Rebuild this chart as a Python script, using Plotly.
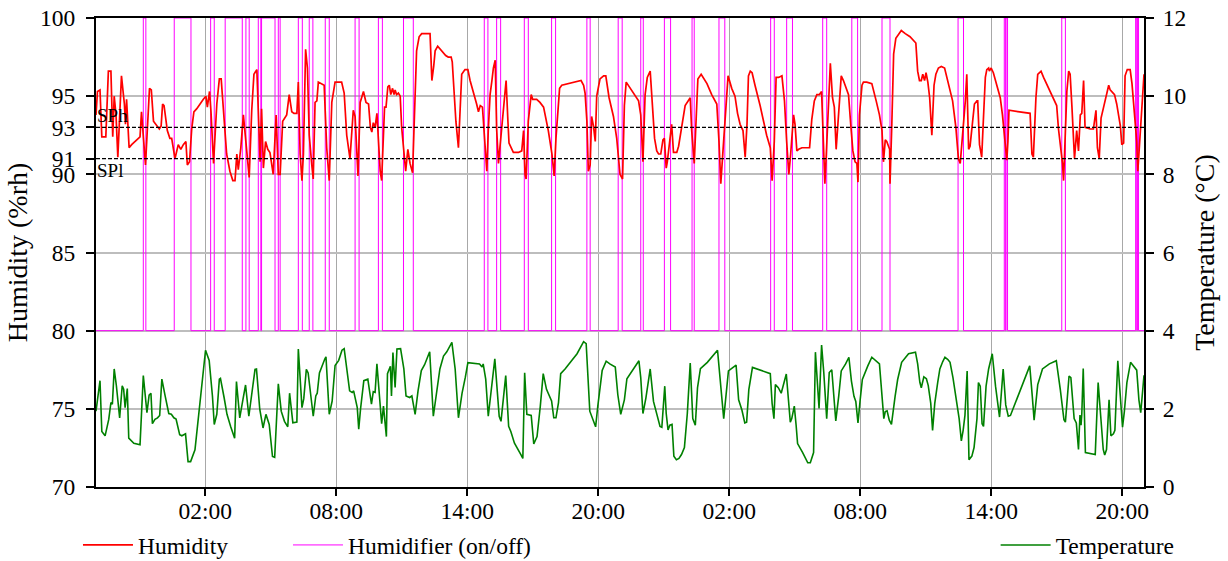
import pandas as pd
import plotly.graph_objects as go

START = pd.Timestamp("2024-01-01 21:00")
SPAN_MIN = 2880

# Humidity (%rh): minutes since start, value
hum_min = [0, 4, 11, 16, 27, 34, 41, 46, 50, 55, 60, 70, 78, 81, 84, 91, 98, 112, 121, 125, 136, 147, 152, 158, 167, 174, 179, 183, 187, 196, 203, 208, 217, 226, 233, 240, 247, 251, 257, 263, 269, 277, 295, 302, 306, 312, 316, 323, 332, 339, 344, 350, 359, 368, 376, 382, 387, 391, 398, 405, 410, 421, 428, 434, 442, 447, 451, 455, 460, 466, 472, 478, 487, 495, 501, 506, 513, 524, 531, 538, 544, 552, 556, 561, 566, 570, 576, 581, 586, 593, 597, 602, 607, 611, 620, 627, 634, 641, 648, 657, 669, 675, 682, 689, 698, 703, 707, 712, 720, 726, 735, 742, 749, 754, 758, 762, 767, 772, 774, 781, 785, 790, 793, 797, 802, 806, 810, 815, 819, 822, 826, 831, 836, 840, 848, 851, 857, 863, 870, 877, 881, 888, 895, 918, 923, 928, 932, 939, 946, 952, 961, 968, 976, 979, 984, 989, 996, 1001, 1005, 1014, 1022, 1028, 1040, 1046, 1051, 1056, 1062, 1065, 1069, 1074, 1078, 1083, 1088, 1092, 1097, 1101, 1106, 1115, 1122, 1127, 1132, 1135, 1143, 1147, 1161, 1170, 1175, 1179, 1182, 1188, 1196, 1200, 1211, 1220, 1230, 1243, 1253, 1259, 1264, 1271, 1274, 1280, 1333, 1340, 1344, 1349, 1353, 1358, 1362, 1367, 1372, 1376, 1385, 1395, 1401, 1410, 1422, 1431, 1440, 1447, 1452, 1457, 1472, 1491, 1497, 1503, 1509, 1515, 1523, 1527, 1535, 1541, 1546, 1552, 1558, 1562, 1567, 1570, 1576, 1582, 1587, 1596, 1601, 1610, 1619, 1633, 1637, 1644, 1649, 1654, 1663, 1679, 1692, 1706, 1712, 1717, 1723, 1729, 1737, 1747, 1756, 1763, 1770, 1778, 1784, 1789, 1793, 1798, 1803, 1811, 1825, 1843, 1853, 1858, 1864, 1869, 1876, 1885, 1892, 1898, 1904, 1909, 1917, 1921, 1926, 1931, 1940, 1949, 1961, 1967, 1974, 1981, 1988, 1994, 1997, 2003, 2007, 2013, 2018, 2024, 2029, 2034, 2040, 2048, 2054, 2062, 2068, 2074, 2080, 2086, 2091, 2094, 2098, 2105, 2109, 2118, 2132, 2144, 2153, 2160, 2164, 2169, 2173, 2181, 2182, 2187, 2192, 2198, 2205, 2213, 2224, 2237, 2253, 2258, 2263, 2268, 2272, 2277, 2281, 2286, 2291, 2297, 2303, 2308, 2315, 2323, 2332, 2338, 2345, 2354, 2363, 2370, 2375, 2381, 2389, 2393, 2398, 2402, 2409, 2414, 2421, 2423, 2428, 2434, 2439, 2444, 2448, 2453, 2455, 2460, 2466, 2474, 2485, 2491, 2497, 2503, 2506, 2509, 2567, 2572, 2576, 2583, 2588, 2592, 2597, 2604, 2618, 2631, 2640, 2645, 2651, 2656, 2659, 2663, 2668, 2673, 2677, 2682, 2689, 2695, 2700, 2705, 2709, 2714, 2718, 2732, 2741, 2748, 2752, 2757, 2762, 2769, 2775, 2783, 2787, 2792, 2799, 2805, 2815, 2819, 2824, 2828, 2834, 2842, 2847, 2854, 2860, 2863, 2867, 2874, 2880]
hum_val = [93.8, 95.3, 95.4, 92.4, 92.4, 96.6, 96.6, 92.4, 95.0, 93.8, 91.1, 96.3, 94.5, 93.2, 94.8, 91.7, 91.9, 92.2, 92.4, 94.0, 90.6, 95.5, 95.4, 93.4, 93.1, 92.9, 93.1, 94.5, 94.4, 92.8, 92.3, 92.3, 91.0, 91.9, 91.6, 91.9, 92.1, 90.6, 90.8, 92.9, 94.0, 94.2, 94.8, 95.0, 94.3, 95.3, 94.0, 90.7, 94.5, 96.1, 96.1, 94.0, 91.3, 90.2, 89.6, 89.6, 91.3, 90.3, 91.7, 93.8, 92.5, 89.8, 94.1, 96.4, 96.7, 93.8, 90.8, 94.2, 90.4, 92.1, 91.6, 91.4, 90.0, 93.8, 90.0, 90.0, 93.4, 93.8, 95.1, 94.0, 93.9, 93.9, 95.9, 91.3, 89.6, 91.3, 98.0, 96.8, 92.5, 90.6, 89.7, 94.6, 94.7, 95.9, 95.8, 95.7, 91.7, 89.6, 94.6, 95.9, 95.9, 95.9, 95.2, 92.5, 91.0, 93.2, 94.1, 93.7, 89.9, 94.6, 95.3, 94.6, 94.5, 93.0, 92.7, 93.3, 93.0, 93.9, 93.0, 90.2, 89.6, 92.4, 94.3, 94.3, 95.6, 95.7, 95.1, 95.5, 95.1, 95.4, 95.1, 95.2, 95.0, 93.0, 90.8, 90.2, 91.6, 90.7, 90.1, 95.8, 97.9, 98.8, 99.0, 99.0, 96.0, 96.9, 97.9, 98.2, 98.0, 97.8, 97.6, 97.5, 97.5, 97.2, 94.9, 93.4, 91.7, 94.7, 96.4, 96.7, 96.7, 96.0, 95.1, 94.5, 94.0, 94.4, 94.3, 93.2, 91.3, 90.2, 92.8, 95.1, 96.0, 96.8, 97.3, 92.9, 90.7, 93.2, 94.6, 96.0, 93.4, 92.0, 91.6, 91.4, 91.4, 91.5, 92.8, 90.0, 89.7, 93.4, 95.1, 94.8, 94.8, 94.6, 94.3, 92.8, 91.3, 89.9, 92.3, 94.9, 95.5, 95.7, 96.0, 95.7, 95.2, 93.4, 90.2, 90.6, 93.7, 93.1, 92.1, 95.0, 96.1, 96.3, 96.3, 94.9, 93.7, 92.3, 90.0, 89.7, 94.4, 95.9, 95.4, 94.7, 93.8, 90.8, 95.1, 96.2, 96.6, 95.1, 92.3, 91.5, 91.3, 91.3, 92.2, 92.3, 90.4, 90.8, 92.1, 93.2, 91.4, 91.4, 91.8, 93.2, 94.4, 94.9, 92.8, 90.7, 93.8, 96.1, 96.4, 95.8, 95.1, 94.5, 92.1, 89.4, 91.5, 93.8, 96.3, 95.5, 95.0, 93.9, 93.2, 92.8, 91.1, 93.2, 96.3, 96.6, 96.5, 95.7, 94.4, 92.5, 91.7, 89.6, 92.1, 96.2, 96.2, 96.3, 94.7, 92.1, 90.0, 91.3, 93.8, 93.2, 91.5, 91.6, 91.7, 91.7, 91.7, 93.5, 94.7, 95.1, 95.1, 95.3, 93.0, 89.4, 91.3, 94.9, 97.1, 94.9, 94.3, 91.6, 93.8, 96.3, 96.0, 95.5, 95.1, 93.2, 91.5, 90.8, 90.7, 89.5, 93.8, 95.7, 95.9, 95.9, 95.8, 94.7, 93.8, 92.8, 90.8, 92.2, 92.1, 91.6, 89.4, 93.2, 97.7, 98.7, 98.9, 99.2, 99.0, 98.8, 98.4, 96.6, 96.0, 96.0, 96.4, 96.0, 96.5, 95.9, 94.9, 92.5, 95.7, 96.4, 96.8, 96.9, 96.8, 96.2, 95.4, 94.7, 93.0, 91.0, 90.7, 92.3, 94.7, 96.4, 91.6, 91.8, 93.4, 94.5, 94.7, 94.7, 91.9, 91.1, 93.7, 96.2, 96.7, 96.8, 96.6, 96.8, 96.5, 95.8, 94.9, 93.8, 92.3, 90.9, 92.1, 94.1, 93.9, 91.3, 91.1, 94.9, 96.4, 96.5, 96.6, 96.2, 95.5, 94.9, 94.4, 92.9, 91.8, 90.7, 89.6, 92.1, 95.3, 96.6, 96.4, 94.3, 91.0, 92.8, 91.5, 93.8, 93.9, 96.0, 93.0, 92.9, 92.9, 94.1, 91.7, 91.0, 93.6, 94.3, 94.9, 95.7, 95.4, 95.3, 95.1, 94.5, 93.1, 91.9, 92.0, 96.3, 96.7, 96.7, 95.8, 93.8, 92.1, 90.2, 91.7, 94.5, 96.4]

# Temperature (°C): minutes since start, value
temp_min = [0, 11, 16, 25, 35, 41, 45, 50, 56, 65, 72, 76, 80, 86, 90, 104, 121, 130, 140, 146, 151, 155, 162, 169, 175, 181, 190, 200, 207, 214, 220, 230, 236, 246, 253, 260, 272, 286, 301, 311, 320, 325, 332, 339, 342, 352, 360, 370, 381, 386, 395, 404, 411, 420, 428, 437, 441, 450, 459, 467, 476, 485, 491, 501, 509, 518, 527, 532, 541, 552, 556, 566, 571, 578, 583, 597, 604, 608, 614, 621, 629, 632, 641, 649, 657, 667, 676, 682, 697, 704, 708, 718, 722, 727, 736, 747, 755, 757, 762, 767, 772, 778, 785, 790, 798, 801, 809, 812, 816, 822, 827, 837, 846, 852, 862, 868, 877, 885, 894, 903, 917, 927, 936, 945, 955, 964, 978, 987, 996, 1006, 1015, 1022, 1054, 1061, 1064, 1071, 1078, 1089, 1096, 1103, 1108, 1113, 1126, 1134, 1140, 1150, 1159, 1168, 1173, 1178, 1184, 1196, 1203, 1212, 1221, 1229, 1238, 1247, 1252, 1258, 1264, 1271, 1277, 1289, 1322, 1340, 1347, 1357, 1366, 1373, 1379, 1391, 1402, 1412, 1427, 1434, 1442, 1452, 1459, 1473, 1492, 1497, 1503, 1511, 1523, 1532, 1541, 1550, 1555, 1563, 1567, 1572, 1577, 1583, 1588, 1595, 1602, 1609, 1617, 1625, 1633, 1640, 1647, 1653, 1661, 1680, 1708, 1717, 1725, 1738, 1759, 1766, 1775, 1783, 1788, 1794, 1804, 1853, 1858, 1863, 1867, 1875, 1883, 1897, 1903, 1908, 1912, 1919, 1924, 1928, 1942, 1956, 1963, 1972, 1977, 1987, 1994, 2000, 2008, 2015, 2022, 2033, 2041, 2048, 2060, 2069, 2076, 2083, 2088, 2094, 2100, 2106, 2121, 2132, 2153, 2160, 2165, 2169, 2174, 2180, 2186, 2196, 2203, 2214, 2224, 2233, 2252, 2258, 2264, 2268, 2275, 2282, 2287, 2294, 2299, 2305, 2313, 2319, 2327, 2333, 2341, 2347, 2355, 2364, 2372, 2378, 2383, 2388, 2394, 2399, 2407, 2413, 2421, 2425, 2430, 2435, 2439, 2446, 2453, 2463, 2472, 2483, 2493, 2500, 2507, 2513, 2524, 2566, 2573, 2578, 2588, 2601, 2620, 2639, 2650, 2660, 2664, 2674, 2679, 2688, 2694, 2700, 2704, 2707, 2709, 2713, 2719, 2732, 2746, 2754, 2760, 2768, 2772, 2777, 2784, 2789, 2796, 2800, 2808, 2813, 2821, 2826, 2833, 2843, 2852, 2860, 2866, 2871, 2880]
temp_val = [1.94, 2.72, 1.42, 1.31, 1.73, 2.16, 2.12, 3.02, 2.59, 1.77, 2.59, 2.50, 2.03, 2.52, 1.25, 1.12, 1.08, 2.85, 1.90, 2.35, 2.40, 1.62, 1.73, 1.77, 1.83, 2.76, 2.33, 1.88, 1.86, 1.77, 1.74, 1.34, 1.31, 1.36, 0.65, 0.65, 0.95, 2.16, 3.50, 3.24, 2.33, 1.60, 1.86, 2.76, 2.78, 2.29, 1.86, 1.55, 1.25, 2.70, 1.77, 2.25, 2.61, 1.81, 2.40, 3.01, 3.02, 1.99, 1.51, 1.86, 1.60, 0.78, 0.76, 2.64, 1.94, 1.68, 1.54, 2.40, 1.64, 1.66, 3.53, 2.03, 2.26, 3.01, 2.92, 1.81, 2.33, 2.40, 2.92, 3.11, 3.28, 3.33, 1.86, 2.20, 3.11, 3.24, 3.50, 3.54, 2.46, 2.42, 2.46, 2.03, 1.48, 2.00, 2.72, 2.76, 2.33, 2.12, 2.44, 2.42, 3.15, 2.33, 1.62, 2.07, 1.29, 2.90, 3.09, 2.33, 3.44, 2.55, 3.53, 3.54, 3.02, 2.33, 2.29, 2.33, 1.86, 2.46, 2.98, 3.13, 3.46, 1.81, 2.46, 3.02, 3.35, 3.46, 3.70, 3.02, 1.77, 2.40, 2.81, 3.18, 3.15, 3.07, 3.15, 2.76, 1.81, 2.68, 3.28, 2.42, 1.81, 1.68, 2.85, 1.55, 1.42, 1.12, 0.95, 0.82, 0.73, 2.92, 1.86, 1.83, 1.10, 1.29, 2.07, 2.90, 2.50, 2.29, 2.20, 1.77, 1.77, 2.16, 2.90, 3.02, 3.41, 3.72, 3.67, 1.94, 1.73, 1.54, 2.07, 2.98, 3.22, 3.15, 3.07, 2.36, 1.86, 2.23, 2.77, 2.97, 3.23, 2.80, 1.88, 2.27, 3.02, 2.19, 1.84, 1.55, 1.53, 2.58, 1.88, 1.46, 1.58, 1.60, 0.79, 0.70, 0.73, 0.83, 1.01, 1.88, 3.17, 1.75, 1.58, 2.54, 3.03, 3.19, 3.50, 2.54, 1.75, 2.97, 3.12, 2.23, 1.97, 1.64, 1.66, 2.49, 3.06, 2.90, 2.14, 1.75, 2.62, 2.54, 2.40, 2.89, 2.14, 1.66, 1.75, 2.07, 1.58, 1.11, 0.88, 0.62, 0.62, 0.88, 3.45, 2.01, 3.63, 2.93, 1.75, 2.93, 3.00, 1.69, 2.32, 2.97, 3.15, 3.32, 2.71, 2.32, 2.19, 1.64, 2.23, 2.75, 3.10, 3.32, 3.15, 2.19, 1.75, 1.93, 1.95, 1.71, 1.60, 2.32, 2.75, 3.19, 3.30, 3.41, 3.45, 3.15, 2.68, 2.54, 2.82, 2.77, 2.60, 2.14, 1.45, 2.14, 2.67, 3.02, 3.21, 3.32, 3.26, 3.19, 2.80, 2.27, 1.75, 1.18, 1.45, 1.84, 2.97, 0.70, 0.79, 1.01, 1.75, 2.67, 2.58, 1.62, 1.55, 2.58, 3.02, 3.41, 2.58, 1.79, 3.02, 2.10, 1.81, 1.83, 2.10, 3.10, 2.32, 1.71, 2.62, 3.02, 3.15, 3.23, 2.49, 1.72, 1.66, 2.84, 2.80, 1.75, 1.64, 0.96, 1.84, 1.58, 1.86, 3.03, 0.88, 0.85, 0.83, 2.67, 1.88, 0.96, 0.82, 0.96, 2.23, 1.31, 1.36, 1.45, 3.23, 2.58, 1.53, 1.93, 2.67, 3.19, 3.09, 2.99, 2.23, 1.90, 2.86]

# Humidifier switching (minutes since start)
hmd_on = [130, 215, 315, 355, 412, 446, 455, 501, 556, 586, 630, 712, 776, 845, 1067, 1101, 1177, 1252, 1349, 1435, 1497, 1562, 1638, 1712, 1854, 1898, 1997, 2077, 2160, 2369, 2496, 2501, 2654, 2857, 2862]
hmd_off = [137, 261, 325, 402, 421, 453, 492, 506, 567, 596, 641, 723, 787, 872, 1077, 1112, 1188, 1263, 1358, 1446, 1504, 1579, 1644, 1728, 1864, 1914, 2008, 2093, 2182, 2384, 2499, 2505, 2664, 2860, 2865]

SP_HIGH = 93
SP_LOW = 91
HUM_TICKS = [70, 75, 80, 85, 90, 91, 93, 95, 100]
HMD_OFF_LEVEL, HMD_ON_LEVEL = 80, 100


def to_time(mins):
    return START + pd.to_timedelta(mins, unit="min")


# humidifier on/off step series
hx, hs = [0], [0]
for a, b in zip(hmd_on, hmd_off):
    hx += [a, b]
    hs += [1, 0]
hx.append(SPAN_MIN)
hs.append(0)
hy = [HMD_ON_LEVEL if s else HMD_OFF_LEVEL for s in hs]

FONT = "Liberation Serif"
FS = 23.5

fig = go.Figure()
fig.add_trace(go.Scatter(
    x=to_time(hx), y=hy, mode="lines", name="Humidifier (on/off)",
    line=dict(color="#ff00ff", width=1, shape="hv"), legend="legend2"))
fig.add_trace(go.Scatter(
    x=to_time(hum_min), y=hum_val, mode="lines", name="Humidity",
    line=dict(color="#ff0000", width=1.7), legend="legend"))
fig.add_trace(go.Scatter(
    x=to_time(temp_min), y=temp_val, mode="lines", name="Temperature",
    line=dict(color="#008000", width=1.6), yaxis="y2", legend="legend3"))

for sp in (SP_HIGH, SP_LOW):
    fig.add_shape(type="line", xref="paper", x0=0, x1=1, yref="y", y0=sp, y1=sp,
                  line=dict(color="black", width=1.2, dash="4px,2px"))

fig.add_annotation(text="SPh", xref="paper", x=0, xanchor="left", yref="y", y=SP_HIGH,
                   yanchor="bottom", showarrow=False, font=dict(size=19), borderpad=0)
fig.add_annotation(text="SPl", xref="paper", x=0, xanchor="left", yref="y", y=SP_LOW,
                   yanchor="top", showarrow=False, font=dict(size=19), borderpad=0)

LEG = dict(orientation="h", y=-0.124, yanchor="middle", bgcolor="rgba(0,0,0,0)",
           itemwidth=50, font=dict(size=FS))

fig.update_layout(
    width=1228, height=561,
    margin=dict(l=96, r=84, t=18, b=74, autoexpand=False),
    plot_bgcolor="white", paper_bgcolor="white",
    font=dict(family=FONT, size=FS, color="black"),
    xaxis=dict(
        type="date", range=[to_time(0), to_time(SPAN_MIN)],
        tick0="2024-01-01 02:00", dtick=6 * 3600 * 1000, tickformat="%H:%M",
        ticks="outside", ticklen=7, tickwidth=1.5, tickcolor="black",
        ticklabelstandoff=-5,
        showline=True, linecolor="black", linewidth=2, mirror=True,
        showgrid=True, gridcolor="#a8a8a8", gridwidth=1, zeroline=False),
    yaxis=dict(
        range=[70, 100], tickvals=HUM_TICKS, ticks="outside", ticklen=8,
        tickwidth=1.5, tickcolor="black", ticklabelstandoff=6,
        showline=True, linecolor="black",
        linewidth=2, showgrid=False, zeroline=False,
        title=dict(text="Humidity (%rh)", standoff=4)),
    yaxis2=dict(
        range=[0, 12], dtick=2, overlaying="y", side="right", ticks="outside",
        ticklen=8, tickwidth=1.5, tickcolor="black", ticklabelstandoff=4,
        showline=True,
        linecolor="black", linewidth=2, showgrid=True, gridcolor="#bdbdbd",
        gridwidth=1.5, zeroline=False,
        title=dict(text="Temperature (°C)", standoff=9)),
    legend=dict(LEG, x=-0.0172, xanchor="left"),
    legend2=dict(LEG, x=0.1832, xanchor="left"),
    legend3=dict(LEG, x=1.034, xanchor="right"),
    showlegend=True,
)

fig.write_html("out.html")
